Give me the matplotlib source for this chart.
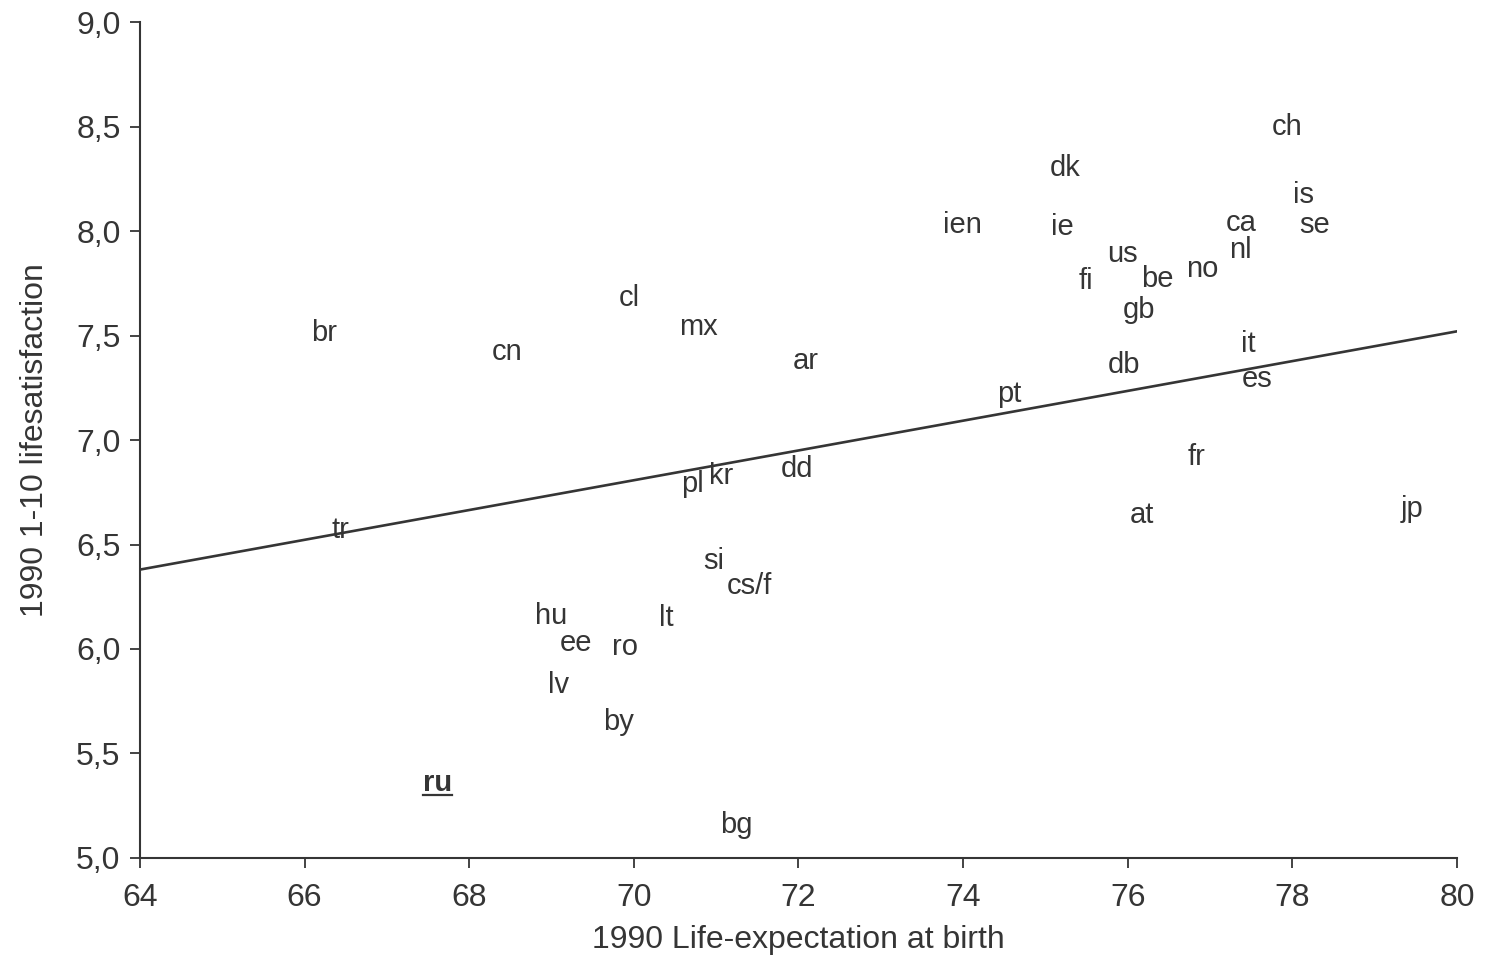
import numpy as np
import matplotlib
matplotlib.use('Agg')
import matplotlib.pyplot as plt
from matplotlib.ticker import FuncFormatter, MultipleLocator

plt.rcParams['font.family'] = ['Liberation Sans', 'DejaVu Sans']
plt.rcParams['xtick.direction'] = 'out'
plt.rcParams['ytick.direction'] = 'out'

# country codes, life expectancy 1990, life satisfaction 1990
countries = ['ch', 'dk', 'is', 'ien', 'ie', 'ca', 'se', 'nl', 'us', 'no', 'be', 'fi', 'gb',
             'cl', 'br', 'mx', 'it', 'cn', 'ar', 'db', 'es', 'pt', 'fr', 'dd', 'kr', 'pl',
             'at', 'jp', 'tr', 'si', 'cs/f', 'hu', 'lt', 'ee', 'ro', 'lv', 'by', 'ru', 'bg']
life_exp = [77.94, 75.24, 78.13, 73.99, 75.21, 77.38, 78.27, 77.37, 75.93, 76.90, 76.36, 75.49, 76.14,
            69.94, 66.24, 70.79, 77.46, 68.46, 72.09, 75.96, 77.57, 74.56, 76.84, 71.98, 71.06, 70.71,
            76.17, 79.46, 66.44, 70.97, 71.41, 68.99, 70.39, 69.30, 69.89, 69.08, 69.81, 67.61, 71.25]
life_sat = [8.50, 8.30, 8.17, 8.03, 8.02, 8.04, 8.03, 7.91, 7.89, 7.82, 7.77, 7.76, 7.62,
            7.68, 7.51, 7.54, 7.46, 7.42, 7.38, 7.36, 7.29, 7.22, 6.92, 6.86, 6.83, 6.79,
            6.64, 6.67, 6.57, 6.42, 6.30, 6.16, 6.15, 6.03, 6.01, 5.83, 5.65, 5.36, 5.16]

# regression line read at the ends of the x range
fit_x = [64, 80]
fit_y = [6.38, 7.52]

x_ticks = [64, 66, 68, 70, 72, 74, 76, 78, 80]

ink = '#353535'

fig = plt.figure(figsize=(14.94, 9.58), dpi=100)
ax = fig.add_axes([0.0937, 0.1044, 0.8815, 0.8726])

ax.plot(fit_x, fit_y, color=ink, linewidth=1.9)

texts = []
for name, x, y in zip(countries, life_exp, life_sat):
    if name == 'ru':
        t = ax.text(x, y, name, ha='center', va='center', fontsize=21, color=ink, fontweight='bold')
    else:
        t = ax.text(x, y, name, ha='center', va='center', fontsize=21, color=ink)
    texts.append(t)

ax.set_xlim(64, 80)
ax.set_ylim(5.0, 9.0)
ax.set_xticks(x_ticks)
ax.yaxis.set_major_locator(MultipleLocator(0.5))
ax.yaxis.set_major_formatter(FuncFormatter(lambda v, p: f'{v:.1f}'.replace('.', ',')))

for side in ['top', 'right']:
    ax.spines[side].set_visible(False)
for side in ['left', 'bottom']:
    ax.spines[side].set_linewidth(1.5)
    ax.spines[side].set_color(ink)

ax.tick_params(axis='both', labelsize=23, colors=ink, width=1.3, length=7)
ax.tick_params(axis='y', pad=7)
ax.tick_params(axis='x', pad=11)

ax.set_xlabel('1990 Life-expectation at birth', fontsize=23, color=ink, labelpad=9)
ax.set_ylabel('1990 1-10 lifesatisfaction', fontsize=23, color=ink, labelpad=19)

# underline for ru
fig.canvas.draw()
ru_text = texts[countries.index('ru')]
bb = ru_text.get_window_extent().transformed(ax.transData.inverted())
ax.plot([bb.x0, bb.x1], [bb.y0 + 0.01, bb.y0 + 0.01], color=ink, linewidth=1.6)

plt.savefig('out.png', dpi=100)
plt.close()
